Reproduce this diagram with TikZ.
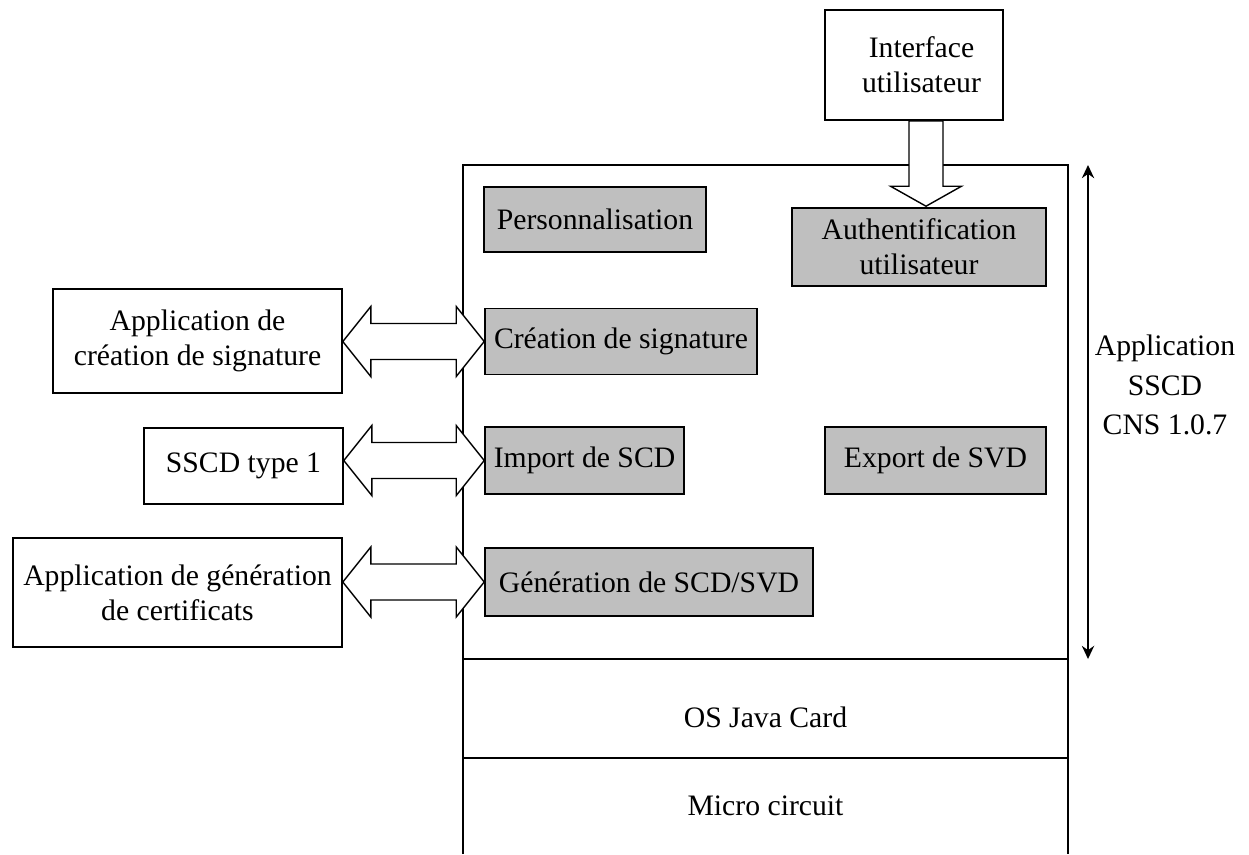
\documentclass[tikz,border=0pt]{standalone}
\usepackage{fontspec}
\setmainfont{Liberation Serif}
\usetikzlibrary{calc,arrows.meta}
\def\dblarrow(#1)(#2){\draw[blockarrow] (#1) -- ($(#1)+(0.56,0.7)$) -- ($(#1)+(0.56,0.36)$) -- ($(#2)+(-0.56,0.36)$) -- ($(#2)+(-0.56,0.7)$) -- (#2) -- ($(#2)+(-0.56,-0.7)$) -- ($(#2)+(-0.56,-0.36)$) -- ($(#1)+(0.56,-0.36)$) -- ($(#1)+(0.56,-0.7)$) -- cycle;}

\tikzset{
	box/.style={draw, line width=0.9pt, fill=white, inner sep=0pt, align=center},
	func/.style={box, fill=black!25},
	blockarrow/.style={draw, line width=0.8pt, fill=white, line join=miter},
	layer/.style={line width=0.9pt}
}

\begin{document}
\begin{tikzpicture}[font=\fontsize{16.9}{19.9}\selectfont]
			%%%%% START %%%%%
			\useasboundingbox (0,0) rectangle (24.98,-17.08);
			
			% card: application, OS, micro circuit
			\draw[layer] (9.26,-17.08) -- (9.26,-3.30) -- (21.36,-3.30) -- (21.36,-17.08);
			\draw[layer] (9.26,-13.18) -- (21.36,-13.18);
			\draw[layer] (9.26,-15.16) -- (21.36,-15.16);
			\node (os) at (15.31,-14.34) {OS Java Card};
			\node (mc) at (15.31,-16.12) {Micro circuit};
			
			% functions of the application
			\node[func, minimum width=4.44cm, minimum height=1.30cm] (pers) at (11.90,-4.39) {Personnalisation};
			\node[func, minimum width=5.08cm, minimum height=1.56cm] (auth) at (18.38,-4.94) {Authentification\\utilisateur};
			\node[func, minimum width=5.44cm, minimum height=1.32cm] (crea) at (12.42,-6.83) {Création de signature};
			\node[func, minimum width=3.98cm, minimum height=1.34cm] (imp) at (11.69,-9.21) {Import de SCD};
			\node[func, minimum width=4.42cm, minimum height=1.34cm] (exp) at (18.71,-9.21) {Export de SVD};
			\node[func, minimum width=6.56cm, minimum height=1.36cm] (gen) at (12.98,-11.64) {Génération de SCD/SVD};
			
			% outside
			\node[box, minimum width=3.56cm, minimum height=2.20cm] (iu) at (18.28,-1.30) {\hspace*{0.3cm}Interface\\\hspace*{0.3cm}utilisateur};
			\node[box, minimum width=5.78cm, minimum height=2.08cm] (csa) at (3.95,-6.82) {Application de\\création de signature};
			\node[box, minimum width=3.98cm, minimum height=1.52cm] (sscd) at (4.87,-9.32) {SSCD type 1};
			\node[box, minimum width=6.58cm, minimum height=2.18cm] (gca) at (3.55,-11.85) {Application de génération\\de certificats};
			
			% block arrows
			\coordinate (l1) at (csa.east |- crea.west);
			\coordinate (l2) at (sscd.east |- imp.west);
			\coordinate (l3) at (gca.east |- gen.west);
			\dblarrow(l1)(crea.west)
			\dblarrow(l2)(imp.west)
			\dblarrow(l3)(gen.west)
			
			\coordinate (t) at ($(auth.north)+(0.14,0.02)$);
			\coordinate (b) at (t |- iu.south);
			\draw[blockarrow] ($(b)+(-0.34,0)$) -- ($(t)+(-0.34,0.4)$) -- ($(t)+(-0.71,0.4)$) -- (t) -- ($(t)+(0.71,0.4)$) -- ($(t)+(0.34,0.4)$) -- ($(b)+(0.34,0)$) -- cycle;
			
			% extent of the application
			\coordinate (up) at (21.76,-3.30);
			\coordinate (dn) at (21.76,-13.18);
			\draw[line width=0.9pt, {Stealth[length=7.5pt,width=7pt]}-{Stealth[length=7.5pt,width=7pt]}] (up) -- (dn);
			\node[align=center, font=\fontsize{16.9}{22.4}\selectfont] (lbl) at (23.30,-7.70) {Application\\SSCD\\CNS 1.0.7};
			
			%%%%% END %%%%%
\end{tikzpicture}
\end{document}
